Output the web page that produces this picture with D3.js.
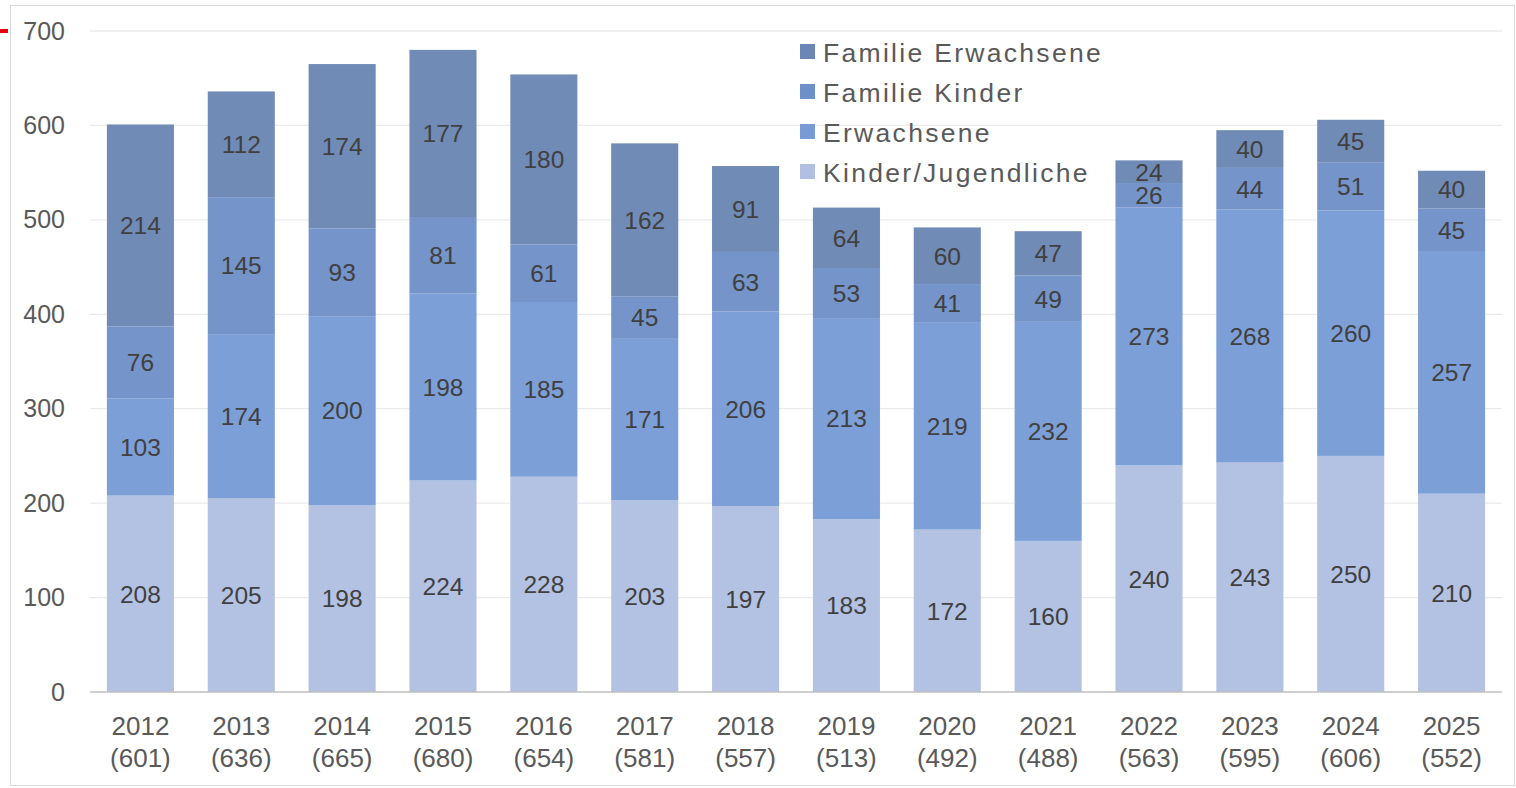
<!DOCTYPE html>
<html>
<head>
<meta charset="utf-8">
<script src="https://cdn.jsdelivr.net/npm/d3@7"></script>
<style>
  body { margin: 0; background: #fff; }
  svg { font-family: "Liberation Sans", Arial, sans-serif; }
</style>
</head>
<body>
<figure id="chart" style="margin:0"></figure>
<script>
// data
var years = ["2012","2013","2014","2015","2016","2017","2018","2019","2020","2021","2022","2023","2024","2025"];
var totals = [601,636,665,680,654,581,557,513,492,488,563,595,606,552];
var kinderJugend = [208,205,198,224,228,203,197,183,172,160,240,243,250,210];
var erwachsene = [103,174,200,198,185,171,206,213,219,232,273,268,260,257];
var familieKinder = [76,145,93,81,61,45,63,53,41,49,26,44,51,45];
var familieErw = [214,112,174,177,180,162,91,64,60,47,24,40,45,40];
var seriesNames = ["Kinder/Jugendliche","Erwachsene","Familie Kinder","Familie Erwachsene"];
var yTicks = [0,100,200,300,400,500,600,700];

var colors = ["#b0bfe2", "#789bd5", "#6e90c8", "#6b86b4"];

var W = 1516, H = 788;
var margin = {top: 31, right: 14, bottom: 96, left: 90},
  width = W - margin.left - margin.right,
  height = H - margin.top - margin.bottom;

var root = d3.select("figure#chart")
  .append("svg")
  .attr("width", W)
  .attr("height", H);

// frame + red marker
root.append("rect")
  .attr("x", 10.5).attr("y", 5.5)
  .attr("width", 1504).attr("height", 780)
  .attr("fill", "none").attr("stroke", "#d9d9d9");
root.append("line")
  .attr("x1", 0).attr("x2", 8)
  .attr("y1", 31).attr("y2", 31)
  .attr("stroke", "#e3000f").attr("stroke-width", 4);

var svg = root.append("g")
  .attr("transform", "translate(" + margin.left + "," + margin.top + ")");

var x = d3.scaleBand()
  .range([0, width])
  .domain(years)
  .paddingInner(0.335)
  .paddingOuter(0.1675);

var y = d3.scaleLinear()
  .domain([0, 700])
  .range([height, 0]);

// gridlines
svg.append("g")
  .selectAll("line")
  .data(yTicks.filter(d => d > 0))
  .enter().append("line")
  .attr("x1", 0).attr("x2", width)
  .attr("y1", d => y(d)).attr("y2", d => y(d))
  .attr("stroke", "#ebebeb").attr("stroke-width", 1.3);

// y axis
svg.append("g")
  .call(d3.axisLeft(y).tickValues(yTicks).tickSize(0).tickPadding(25))
  .call(g => g.select(".domain").remove())
  .selectAll("text")
  .attr("font-size", 25)
  .attr("fill", "#595959")
  .attr("font-family", "Liberation Sans, Arial, sans-serif");

// stacked data
var table = years.map(function(yr, i) {
  return {year: yr, total: totals[i],
    "Kinder/Jugendliche": kinderJugend[i],
    "Erwachsene": erwachsene[i],
    "Familie Kinder": familieKinder[i],
    "Familie Erwachsene": familieErw[i]};
});
var stacked = d3.stack().keys(seriesNames)(table);

var layers = svg.selectAll(".layer")
  .data(stacked)
  .enter().append("g")
  .attr("class", "layer")
  .attr("fill", (d, i) => colors[i]);

layers.selectAll("rect")
  .data(d => d)
  .enter().append("rect")
  .attr("x", d => x(d.data.year))
  .attr("y", d => y(d[1]))
  .attr("width", x.bandwidth())
  .attr("height", d => y(d[0]) - y(d[1]))
  .attr("fill-opacity", 0.96);

// value labels
layers.selectAll("text")
  .data(d => d)
  .enter().append("text")
  .attr("x", d => x(d.data.year) + x.bandwidth() / 2)
  .attr("y", d => y((d[0] + d[1]) / 2))
  .attr("dy", "0.36em")
  .attr("text-anchor", "middle")
  .attr("font-size", 24.5)
  .attr("fill", "#404040")
  .text(d => d[1] - d[0]);

// baseline
svg.append("line")
  .attr("x1", 0).attr("x2", width)
  .attr("y1", height).attr("y2", height)
  .attr("stroke", "#bfbfbf").attr("stroke-width", 1.3);

// x labels (two lines)
var xl = svg.append("g")
  .selectAll("text")
  .data(table)
  .enter().append("text")
  .attr("text-anchor", "middle")
  .attr("font-size", 26)
  .attr("fill", "#595959")
  .attr("transform", d => "translate(" + (x(d.year) + x.bandwidth() / 2) + "," + (height + 43) + ")");
xl.append("tspan").attr("x", 0).attr("y", 0).text(d => d.year);
xl.append("tspan").attr("x", 0).attr("y", 32).text(d => "(" + d.total + ")");

// legend
var legendItems = seriesNames.slice().reverse();
var legend = root.append("g")
  .attr("transform", "translate(800,52)");
var li = legend.selectAll("g")
  .data(legendItems)
  .enter().append("g")
  .attr("transform", (d, i) => "translate(0," + i * 40 + ")");
li.append("rect")
  .attr("x", 0).attr("y", -8)
  .attr("width", 15).attr("height", 15)
  .attr("fill", d => colors[seriesNames.indexOf(d)]);
li.append("text")
  .attr("x", 23).attr("y", 0)
  .attr("dy", "0.36em")
  .attr("font-size", 26.5)
  .attr("letter-spacing", 2.3)
  .attr("fill", "#595959")
  .text(d => d);
</script>
</body>
</html>
